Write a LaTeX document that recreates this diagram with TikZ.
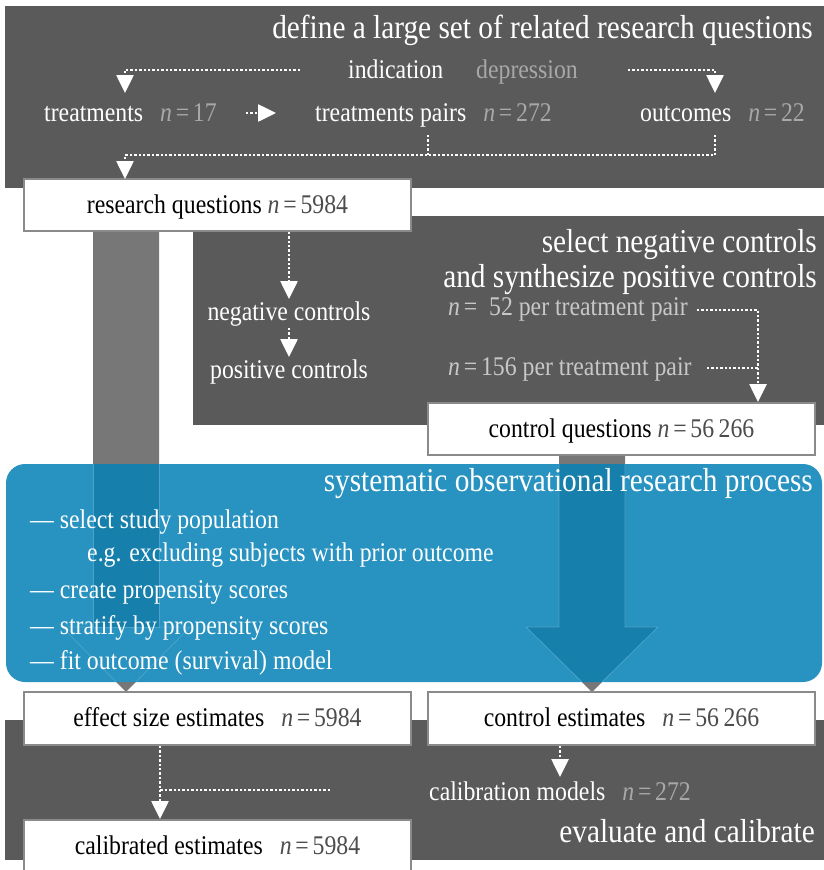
\documentclass[tikz,border=0pt]{standalone}
\usepackage{fontspec}
\setmainfont{Liberation Serif}[FakeStretch=0.88]
\usetikzlibrary{arrows.meta}
\definecolor{darkbg}{HTML}{5A5A5A}
\definecolor{bluebg}{HTML}{2893C0}
\definecolor{blueshaft}{HTML}{167FAB}
\definecolor{blueedge}{HTML}{4AA3CA}
\definecolor{shaftgray}{HTML}{777777}
\definecolor{nlight}{HTML}{A8A8A8}
\definecolor{nlighter}{HTML}{C8C8C8}
\definecolor{ndark}{HTML}{4D4D4D}
\definecolor{boxedge}{HTML}{8A8A8A}
\newcommand{\nval}[1]{\textit{n}\hspace{0.14em}=\hspace{0.14em}#1}
\tikzset{
  body/.style={font=\fontsize{27}{32}\selectfont, inner sep=0pt},
  titletext/.style={font=\fontsize{33.3}{38}\selectfont, inner sep=0pt, text=white, anchor=base east},
  ondark/.style={body, text=white, anchor=base},
  wbox/.style={body, draw=boxedge, line width=1.5pt, fill=white, text=black,
    minimum width=387pt, minimum height=52pt, text height=20pt, text depth=4pt},
  dotline/.style={draw=white, line width=2.6pt, dash pattern=on 2.4pt off 2pt},
  tipw/.style={-{Triangle[width=17pt,length=18pt,fill=white]}},
  bigarrow/.style={fill=shaftgray}
}
\begin{document}
\begin{tikzpicture}[x=1pt,y=-1pt]
\useasboundingbox (0,0) rectangle (824,870);
% dark panels
\fill[darkbg] (5,6) rectangle (824,188);
\fill[darkbg] (193,216) rectangle (824,425);
\fill[darkbg] (5,720) rectangle (824,860);
% wide gray arrows
\fill[bigarrow] (93,230) -- (159,230) -- (159,627) -- (190,627) -- (126,692) -- (62,627) -- (93,627) -- cycle;
\fill[bigarrow] (559,455) -- (625,455) -- (625,627) -- (658,627) -- (592,692) -- (526,627) -- (559,627) -- cycle;
% blue panel
\fill[bluebg, rounded corners=19pt] (6,464) rectangle (822,682);
\begin{scope}
  \clip[rounded corners=19pt] (6,464) rectangle (822,682);
  \filldraw[fill=blueshaft, draw=blueedge, line width=0.8pt] (559,455) -- (625,455) -- (625,627) -- (658,627) -- (592,692) -- (526,627) -- (559,627) -- cycle;
  \filldraw[fill=blueshaft, draw=blueedge, line width=0.8pt] (93,455) rectangle (159,627);
  \draw[blueedge, line width=0.8pt] (93,627) -- (62,627) -- (126,692) -- (190,627) -- (159,627);
\end{scope}

% ---- top panel texts
\node[titletext] (t1) at (813,38) {define a large set of related research questions};
\node[ondark, anchor=base west] (ind) at (348,78) {indication};
\node[ondark, anchor=base west, text=nlight] (dep) at (476,78) {depression};
\node[ondark, anchor=base west] (tr) at (44,121) {treatments\hspace{17pt}{\color{nlight}\nval{17}}};
\node[ondark, anchor=base west] (tp) at (315,121) {treatments pairs\hspace{17pt}{\color{nlight}\nval{272}}};
\node[ondark, anchor=base west] (oc) at (640,121) {outcomes\hspace{17pt}{\color{nlight}\nval{22}}};

% ---- middle panel texts
\node[titletext] (t2a) at (817,252) {select negative controls};
\node[titletext] (t2b) at (817,287) {and synthesize positive controls};
\node[ondark] (neg) at (289,320) {negative controls};
\node[ondark] (pos) at (289,378) {positive controls};
\node[ondark, anchor=base west, text=nlighter] (n52) at (448,315) {\nval{\hspace{0.3em}52} per treatment pair};
\node[ondark, anchor=base west, text=nlighter] (n156) at (448,375) {\nval{156} per treatment pair};

% ---- blue panel texts
\node[titletext] (t3) at (813,491) {systematic observational research process};
\node[ondark, anchor=base west] (i1) at (30,528) {— select study population};
\node[ondark, anchor=base west] (i1b) at (87,561) {e.g. excluding subjects with prior outcome};
\node[ondark, anchor=base west] (i2) at (30,598) {— create propensity scores};
\node[ondark, anchor=base west] (i3) at (30,634) {— stratify by propensity scores};
\node[ondark, anchor=base west] (i4) at (30,669) {— fit outcome (survival) model};

% ---- bottom panel texts
\node[titletext] (t4) at (815,842) {evaluate and calibrate};
\node[ondark, anchor=base west] (cm) at (429,800) {calibration models\hspace{17pt}{\color{nlight}\nval{272}}};

% ---- white boxes
\node[wbox] (rq) at (217.5,205) {research questions {\color{ndark}\nval{5984}}};
\node[wbox] (cq) at (621.5,429) {control questions {\color{ndark}\nval{56\,266}}};
\node[wbox, minimum height=53pt] (es) at (217.5,718.5) {effect size estimates\hspace{17pt}{\color{ndark}\nval{5984}}};
\node[wbox, minimum height=53pt] (ce) at (621.5,718.5) {control estimates\hspace{17pt}{\color{ndark}\nval{56\,266}}};
\node[wbox] (cal) at (217.5,846) {calibrated estimates\hspace{17pt}{\color{ndark}\nval{5984}}};

% ---- connector coordinates
\coordinate (indL) at (300,70);
\coordinate (indR) at (628,70);
\coordinate (trIn) at (125,93);
\coordinate (ocIn) at (715,93);
\coordinate (trOut) at (246,113);
\coordinate (tpIn) at (276,113);
\coordinate (tpOut) at (428,135);
\coordinate (ocOut) at (715,135);
\coordinate (rqIn) at (125,179);
\coordinate (negIn) at (289,299);
\coordinate (negOut) at (289,328);
\coordinate (posIn) at (289,357);
\coordinate (n52out) at (697,310);
\coordinate (n156out) at (707,368);
\coordinate (cqIn) at (758,402);
\coordinate (ceOut) at (560,746);
\coordinate (cmIn) at (560,777);
\coordinate (esOut) at (160,746);
\coordinate (calIn) at (160,819);
\coordinate (cmOut) at (330,790);

% ---- connectors
\draw[dotline, tipw] (indL) -| (trIn);
\draw[dotline, tipw] (indR) -| (ocIn);
\draw[dotline, tipw] (trOut) -- (tpIn);
\draw[dotline] (tpOut) -- (tpOut |- 0,155);
\draw[dotline, tipw] (ocOut) |- (rqIn |- 0,155) -- (rqIn);
\draw[dotline, tipw] (rq.south -| negIn) -- (negIn);
\draw[dotline, tipw] (negOut) -- (posIn);
\draw[dotline, tipw] (n52out) -| (cqIn);
\draw[dotline] (n156out) -- (cqIn |- n156out);
\draw[dotline, tipw] (ceOut) -- (cmIn);
\draw[dotline, tipw] (esOut) -- (calIn);
\draw[dotline] (cmOut) -- (esOut |- cmOut);
\end{tikzpicture}
\end{document}
